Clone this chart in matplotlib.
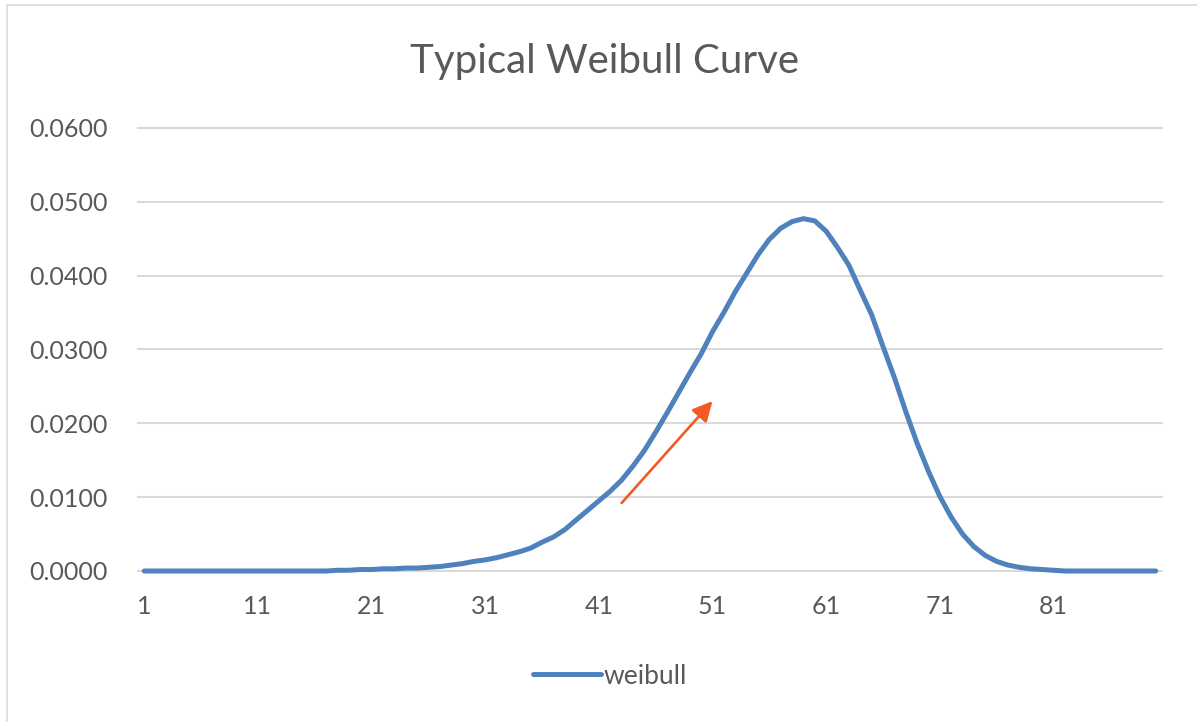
import matplotlib
matplotlib.use("Agg")
from matplotlib import pyplot as plt
from matplotlib.patches import Rectangle

plt.rcParams['font.family'] = ['Lato', 'DejaVu Sans']

TEXT_GREY = "#595959"
GRID_GREY = "#D9D9D9"
LINE_BLUE = "#4F81BD"
ARROW_ORANGE = "#F15A24"

# data
categories = list(range(1, 91))
weibull = [
    0.0000, 0.0000, 0.0000, 0.0000, 0.0000, 0.0000, 0.0000, 0.0000, 0.0000, 0.0000,
    0.0000, 0.0000, 0.0000, 0.0000, 0.0000, 0.0000, 0.0000,
    0.0001, 0.0001, 0.0002, 0.0002, 0.0003, 0.0003, 0.0004, 0.0004, 0.0005, 0.0006,
    0.0008, 0.0010, 0.0013, 0.0015, 0.0018, 0.0022, 0.0026, 0.0031, 0.0039, 0.0046,
    0.0056, 0.0069, 0.0082, 0.0095, 0.0108, 0.0123, 0.0142, 0.0163, 0.0188, 0.0214,
    0.0241, 0.0268, 0.0294, 0.0324, 0.0350, 0.0378, 0.0403, 0.0428, 0.0449, 0.0464,
    0.0473, 0.0477, 0.0474, 0.0460, 0.0438, 0.0414, 0.0380, 0.0347, 0.0304, 0.0262,
    0.0216, 0.0173, 0.0135, 0.0101, 0.0073, 0.0050, 0.0033, 0.0021, 0.0013, 0.0008,
    0.0005, 0.0003, 0.0002, 0.0001,
    0.0000, 0.0000, 0.0000, 0.0000, 0.0000, 0.0000, 0.0000, 0.0000, 0.0000,
]
x_ticks = [1, 11, 21, 31, 41, 51, 61, 71, 81]
y_ticks = [0.0, 0.01, 0.02, 0.03, 0.04, 0.05, 0.06]
arrow_tail = (43, 0.0092)
arrow_head = (51, 0.0230)

fig = plt.figure(figsize=(11.97, 7.22), dpi=100)
fig.patch.set_facecolor("white")

# chart border (only left/top visible in the crop)
fig.patches.append(Rectangle((7 / 1197, -0.5), 2.0, 1.5 - 5 / 722,
                             transform=fig.transFigure, fill=False,
                             edgecolor=GRID_GREY, linewidth=1.2))

ax = fig.add_axes([138 / 1197, 1 - 571 / 722, 1024 / 1197, (571 - 127.8) / 722])
for s in ax.spines.values():
    s.set_visible(False)

for yv in y_ticks:
    ax.axhline(yv, color=GRID_GREY, linewidth=1.5, clip_on=False, zorder=1)

ax.plot(categories, weibull, color=LINE_BLUE, linewidth=3.6, label="weibull",
        solid_joinstyle='round', solid_capstyle='round', clip_on=False, zorder=3)

ax.annotate("", xy=arrow_head, xytext=arrow_tail,
            arrowprops=dict(arrowstyle='-|>', color=ARROW_ORANGE, lw=1.9,
                            mutation_scale=30, shrinkA=0, shrinkB=0),
            zorder=4)

ax.set_xlim(0.45, 90.55)
ax.set_ylim(0, 0.06)

ax.set_xticks(x_ticks)
ax.set_xticklabels([str(v) for v in x_ticks])
ax.set_yticks(y_ticks)
ax.set_yticklabels([f"{v:.4f}" for v in y_ticks])
ax.tick_params(axis='both', length=0, labelsize=18, labelcolor=TEXT_GREY)
ax.tick_params(axis='y', pad=22)
ax.tick_params(axis='x', pad=17)

fig.text(605 / 1197, 1 - 61 / 722, "Typical Weibull Curve", ha='center', va='center',
         fontsize=29, color=TEXT_GREY)

fig.legend(loc='center', bbox_to_anchor=(610 / 1197, 1 - 676 / 722), frameon=False,
           fontsize=19, labelcolor=TEXT_GREY, handlelength=2.6, handletextpad=0.1)

fig.savefig("out.png", dpi=100, facecolor="white")
